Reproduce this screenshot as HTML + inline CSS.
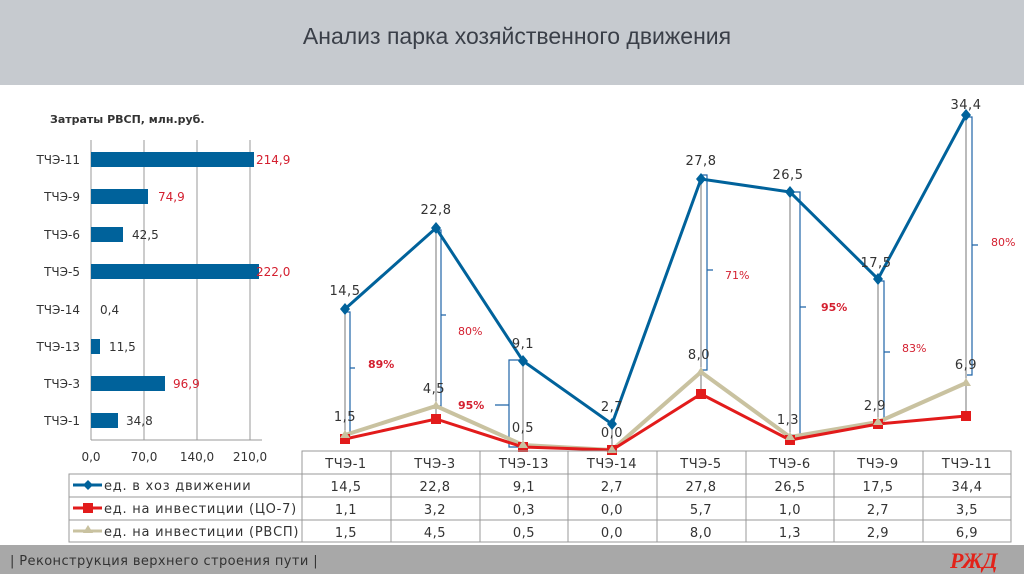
<!DOCTYPE html>
<html><head><meta charset="utf-8"><style>
body{margin:0;width:1024px;height:574px;background:#fff;overflow:hidden;font-family:"DejaVu Sans","Liberation Sans",sans-serif}
</style></head><body>
<svg width="1024" height="574" xmlns="http://www.w3.org/2000/svg" font-family="DejaVu Sans, Liberation Sans, sans-serif">
<rect x="0" y="0" width="1024" height="85" fill="#c6cacf"/>
<text x="517" y="44" font-family="Liberation Sans, sans-serif" font-size="23" fill="#3a3f48" text-anchor="middle">Анализ парка хозяйственного движения</text>
<rect x="0" y="545" width="1024" height="29" fill="#a8a8a8"/>
<text x="10" y="565" font-size="13" fill="#333" letter-spacing="0.4">| Реконструкция верхнего строения пути |</text>
<text x="950" y="568" font-size="22" font-weight="bold" font-style="italic" fill="#e2231a" font-family="Liberation Serif, serif">РЖД</text>

<!-- bar chart -->
<text x="50" y="123" font-size="11" font-weight="bold" fill="#333">Затраты РВСП, млн.руб.</text>
<g stroke="#999" stroke-width="1">
<line x1="144" y1="140" x2="144" y2="440"/><line x1="197" y1="140" x2="197" y2="440"/><line x1="250" y1="140" x2="250" y2="440"/>
<line x1="91" y1="140" x2="91" y2="440"/><line x1="91" y1="440" x2="262" y2="440"/>
</g>
<g fill="#00629b">
<rect x="91" y="152" width="163" height="15"/>
<rect x="91" y="189" width="57" height="15"/>
<rect x="91" y="227" width="32" height="15"/>
<rect x="91" y="264" width="168" height="15"/>
<rect x="91" y="339" width="9" height="15"/>
<rect x="91" y="376" width="74" height="15"/>
<rect x="91" y="413" width="27" height="15"/>
</g>
<g font-size="12" fill="#333" text-anchor="end">
<text x="80" y="164">ТЧЭ-11</text><text x="80" y="201">ТЧЭ-9</text><text x="80" y="239">ТЧЭ-6</text><text x="80" y="276">ТЧЭ-5</text><text x="80" y="314">ТЧЭ-14</text><text x="80" y="351">ТЧЭ-13</text><text x="80" y="388">ТЧЭ-3</text><text x="80" y="425">ТЧЭ-1</text>
</g>
<g font-size="12">
<text x="256" y="164" fill="#d42030">214,9</text>
<text x="158" y="201" fill="#d42030">74,9</text>
<text x="132" y="239" fill="#333">42,5</text>
<text x="256" y="276" fill="#d42030">222,0</text>
<text x="100" y="314" fill="#333">0,4</text>
<text x="109" y="351" fill="#333">11,5</text>
<text x="173" y="388" fill="#d42030">96,9</text>
<text x="126" y="425" fill="#333">34,8</text>
</g>
<g font-size="12" fill="#333" text-anchor="middle">
<text x="91" y="461">0,0</text><text x="144" y="461">70,0</text><text x="197" y="461">140,0</text><text x="250" y="461">210,0</text>
</g>

<!-- gray verticals -->
<g stroke="#777" stroke-width="1">
<line x1="345" y1="309" x2="345" y2="439"/>
<line x1="436" y1="228" x2="436" y2="419"/>
<line x1="523" y1="361" x2="523" y2="447"/>
<line x1="612" y1="424" x2="612" y2="450"/>
<line x1="701" y1="179" x2="701" y2="394"/>
<line x1="790" y1="192" x2="790" y2="440"/>
<line x1="878" y1="279" x2="878" y2="424"/>
<line x1="966" y1="115" x2="966" y2="416"/>
</g>
<!-- brackets -->
<g stroke="#1f64a8" stroke-width="1.2" fill="none">
<path d="M346 312 H350 V435 H346 M350 368 H355"/>
<path d="M437 230 H441 V406 H437 M441 315 H446"/>
<path d="M520 360 H509 V447 H520 M509 405 H495"/>
<path d="M702 175 H707 V370 H702 M707 270 H713"/>
<path d="M791 192 H800 V435 H791 M800 307 H806"/>
<path d="M879 281 H884 V421 H879 M884 352 H890"/>
<path d="M967 117 H972 V375 H967 M972 245 H978"/>
</g>
<g font-size="11" fill="#d42030">
<text x="368" y="368" font-weight="bold">89%</text>
<text x="458" y="335">80%</text>
<text x="458" y="409" font-weight="bold">95%</text>
<text x="725" y="279">71%</text>
<text x="821" y="311" font-weight="bold">95%</text>
<text x="902" y="352">83%</text>
<text x="991" y="246">80%</text>
</g>
<!-- series -->
<polyline points="345,435 436,406 523,445 612,450 701,372 790,437 878,422 966,383" fill="none" stroke="#c9c2a0" stroke-width="4"/>
<polyline points="345,439 436,419 523,447 612,450 701,394 790,440 878,424 966,416" fill="none" stroke="#e21b1b" stroke-width="3"/>
<polyline points="345,309 436,228 523,361 612,424 701,179 790,192 878,279 966,115" fill="none" stroke="#00629b" stroke-width="3"/>
<g fill="#e21b1b">
<rect x="340" y="434" width="10" height="10"/><rect x="431" y="414" width="10" height="10"/><rect x="518" y="442" width="10" height="10"/><rect x="607" y="445" width="10" height="10"/><rect x="696" y="389" width="10" height="10"/><rect x="785" y="435" width="10" height="10"/><rect x="873" y="419" width="10" height="10"/><rect x="961" y="411" width="10" height="10"/>
</g>
<g fill="#c9c2a0">
<path d="M345 430 l5 8 h-10z"/><path d="M436 401 l5 8 h-10z"/><path d="M523 440 l5 8 h-10z"/><path d="M612 445 l5 8 h-10z"/><path d="M701 367 l5 8 h-10z"/><path d="M790 432 l5 8 h-10z"/><path d="M878 417 l5 8 h-10z"/><path d="M966 378 l5 8 h-10z"/>
</g>
<g fill="#00629b">
<path d="M345 303 l5 6 -5 6 -5 -6z"/><path d="M436 222 l5 6 -5 6 -5 -6z"/><path d="M523 355 l5 6 -5 6 -5 -6z"/><path d="M612 418 l5 6 -5 6 -5 -6z"/><path d="M701 173 l5 6 -5 6 -5 -6z"/><path d="M790 186 l5 6 -5 6 -5 -6z"/><path d="M878 273 l5 6 -5 6 -5 -6z"/><path d="M966 109 l5 6 -5 6 -5 -6z"/>
</g>
<g font-size="13" fill="#333" text-anchor="middle" letter-spacing="0.5">
<text x="345" y="295">14,5</text><text x="436" y="214">22,8</text><text x="523" y="348">9,1</text><text x="612" y="411">2,7</text><text x="701" y="165">27,8</text><text x="788" y="179">26,5</text><text x="876" y="267">17,5</text><text x="966" y="109">34,4</text>
<text x="345" y="421">1,5</text><text x="434" y="393">4,5</text><text x="523" y="432">0,5</text><text x="612" y="437">0,0</text><text x="699" y="359">8,0</text><text x="788" y="424">1,3</text><text x="875" y="410">2,9</text><text x="966" y="369">6,9</text>
</g>

<!-- table -->
<g stroke="#999" stroke-width="1" fill="none">
<rect x="302" y="451" width="709" height="91"/>
<rect x="69" y="474" width="233" height="68"/>
<line x1="69" y1="497" x2="1011" y2="497"/><line x1="69" y1="520" x2="1011" y2="520"/><line x1="302" y1="474" x2="1011" y2="474"/>
<line x1="391" y1="451" x2="391" y2="542"/><line x1="480" y1="451" x2="480" y2="542"/><line x1="568" y1="451" x2="568" y2="542"/><line x1="657" y1="451" x2="657" y2="542"/><line x1="746" y1="451" x2="746" y2="542"/><line x1="834" y1="451" x2="834" y2="542"/><line x1="923" y1="451" x2="923" y2="542"/>
</g>
<g font-size="13" fill="#333" text-anchor="middle" letter-spacing="0.5">
<text x="346" y="468">ТЧЭ-1</text><text x="435" y="468">ТЧЭ-3</text><text x="524" y="468">ТЧЭ-13</text><text x="612" y="468">ТЧЭ-14</text><text x="701" y="468">ТЧЭ-5</text><text x="790" y="468">ТЧЭ-6</text><text x="878" y="468">ТЧЭ-9</text><text x="967" y="468">ТЧЭ-11</text>
<text x="346" y="491">14,5</text><text x="435" y="491">22,8</text><text x="524" y="491">9,1</text><text x="612" y="491">2,7</text><text x="701" y="491">27,8</text><text x="790" y="491">26,5</text><text x="878" y="491">17,5</text><text x="967" y="491">34,4</text>
<text x="346" y="514">1,1</text><text x="435" y="514">3,2</text><text x="524" y="514">0,3</text><text x="612" y="514">0,0</text><text x="701" y="514">5,7</text><text x="790" y="514">1,0</text><text x="878" y="514">2,7</text><text x="967" y="514">3,5</text>
<text x="346" y="537">1,5</text><text x="435" y="537">4,5</text><text x="524" y="537">0,5</text><text x="612" y="537">0,0</text><text x="701" y="537">8,0</text><text x="790" y="537">1,3</text><text x="878" y="537">2,9</text><text x="967" y="537">6,9</text>
</g>
<line x1="73" y1="485" x2="102" y2="485" stroke="#00629b" stroke-width="3"/><path d="M88 480 l5 5 -5 5 -5 -5z" fill="#00629b"/>
<line x1="73" y1="508" x2="102" y2="508" stroke="#e21b1b" stroke-width="3"/><rect x="83" y="503" width="10" height="10" fill="#e21b1b"/>
<line x1="73" y1="531" x2="102" y2="531" stroke="#c9c2a0" stroke-width="3"/><path d="M88 525 l5 8 h-10z" fill="#c9c2a0"/>
<g font-size="13" fill="#333" letter-spacing="0.75">
<text x="104" y="490">ед. в хоз движении</text>
<text x="104" y="513">ед. на инвестиции (ЦО-7)</text>
<text x="104" y="536">ед. на инвестиции (РВСП)</text>
</g>
</svg>
</body></html>
